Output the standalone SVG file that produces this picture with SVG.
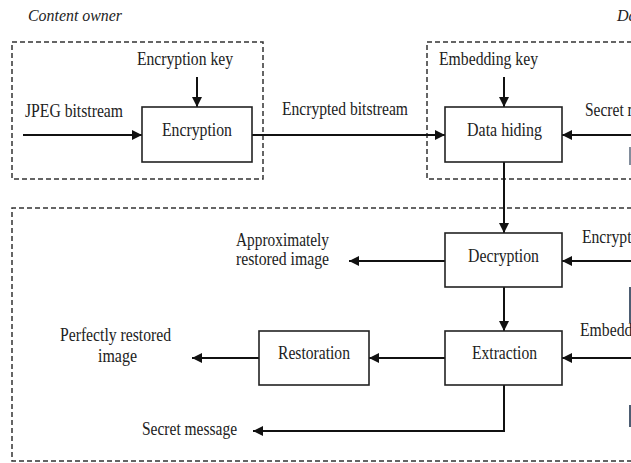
<svg xmlns="http://www.w3.org/2000/svg" width="631" height="463" viewBox="0 0 631 463">
<defs>
<style>
.t{font-family:"Liberation Serif","Times New Roman",serif;font-size:18px;fill:#222}
.i{font-style:italic;font-size:17px}
.m{text-anchor:middle}
.box{fill:#fff;stroke:#222;stroke-width:1.6}
.dash{fill:none;stroke:#333;stroke-width:1.5;stroke-dasharray:5,3}
.c{fill:none;stroke:#111;stroke-width:2}
.a{marker-end:url(#ah)}
.mark{fill:#4d5d72}
</style>
<marker id="ah" viewBox="0 0 10 10" refX="10" refY="5" markerWidth="10" markerHeight="10" markerUnits="userSpaceOnUse" orient="auto">
<path d="M0,0 L10,5 L0,10 z" fill="#111"/>
</marker>
</defs>
<rect width="631" height="463" fill="#fff"/>

<g id="regions">
<rect class="dash" x="12" y="42" width="251" height="137"/>
<path class="dash" d="M640,42 H427 V179 H640"/>
<path class="dash" d="M640,208 H12 V461 H640"/>
<text class="t i" x="28" y="21" textLength="94" lengthAdjust="spacingAndGlyphs">Content owner</text>
<text class="t i" x="617" y="21" textLength="70" lengthAdjust="spacingAndGlyphs">Data hider</text>
</g>

<g id="connectors">
<path class="c a" d="M23,135 H142"/>
<path class="c a" d="M197,77 V107"/>
<path class="c a" d="M252,135 H445"/>
<path class="c a" d="M504,77 V107"/>
<path class="c a" d="M640,135 H562"/>
<path class="c a" d="M504,162 V233"/>
<path class="c a" d="M445,261 H349"/>
<path class="c a" d="M640,261 H562"/>
<path class="c a" d="M504,287 V331"/>
<path class="c a" d="M445,358 H369"/>
<path class="c a" d="M640,358 H562"/>
<path class="c a" d="M259,358 H192"/>
<path class="c a" d="M504,385 V431 H253"/>
</g>

<g id="encryption">
<rect class="box" x="142" y="107" width="110" height="55"/>
<text class="t" x="162" y="136" textLength="70" lengthAdjust="spacingAndGlyphs">Encryption</text>
</g>
<g id="data-hiding">
<rect class="box" x="445" y="107" width="117" height="55"/>
<text class="t" x="467" y="136" textLength="75" lengthAdjust="spacingAndGlyphs">Data hiding</text>
</g>
<g id="decryption">
<rect class="box" x="445" y="233" width="117" height="54"/>
<text class="t" x="468" y="262" textLength="71" lengthAdjust="spacingAndGlyphs">Decryption</text>
</g>
<g id="extraction">
<rect class="box" x="445" y="331" width="117" height="54"/>
<text class="t" x="472" y="359" textLength="65" lengthAdjust="spacingAndGlyphs">Extraction</text>
</g>
<g id="restoration">
<rect class="box" x="259" y="331" width="110" height="54"/>
<text class="t" x="278" y="359" textLength="72" lengthAdjust="spacingAndGlyphs">Restoration</text>
</g>

<g id="labels">
<text class="t" x="137" y="65" textLength="96" lengthAdjust="spacingAndGlyphs">Encryption key</text>
<text class="t" x="25" y="117" textLength="98" lengthAdjust="spacingAndGlyphs">JPEG bitstream</text>
<text class="t" x="282" y="115" textLength="126" lengthAdjust="spacingAndGlyphs">Encrypted bitstream</text>
<text class="t" x="439" y="65" textLength="99" lengthAdjust="spacingAndGlyphs">Embedding key</text>
<text class="t" x="585" y="116" textLength="95" lengthAdjust="spacingAndGlyphs">Secret message</text>
<text class="t" x="236" y="246" textLength="93" lengthAdjust="spacingAndGlyphs">Approximately</text>
<text class="t" x="236" y="265" textLength="93" lengthAdjust="spacingAndGlyphs">restored image</text>
<text class="t" x="582" y="243" textLength="96" lengthAdjust="spacingAndGlyphs">Encryption key</text>
<text class="t" x="580" y="336" textLength="99" lengthAdjust="spacingAndGlyphs">Embedding key</text>
<text class="t" x="60" y="341" textLength="111" lengthAdjust="spacingAndGlyphs">Perfectly restored</text>
<text class="t" x="98" y="362" textLength="39" lengthAdjust="spacingAndGlyphs">image</text>
<text class="t" x="142" y="435" textLength="95" lengthAdjust="spacingAndGlyphs">Secret message</text>
</g>

<g id="edge-marks">
<rect class="mark" x="629" y="147" width="2" height="18" opacity="0.7"/>
<rect class="mark" x="629" y="287" width="2" height="36"/>
<rect class="mark" x="629" y="405" width="2" height="22"/>
</g>
</svg>
